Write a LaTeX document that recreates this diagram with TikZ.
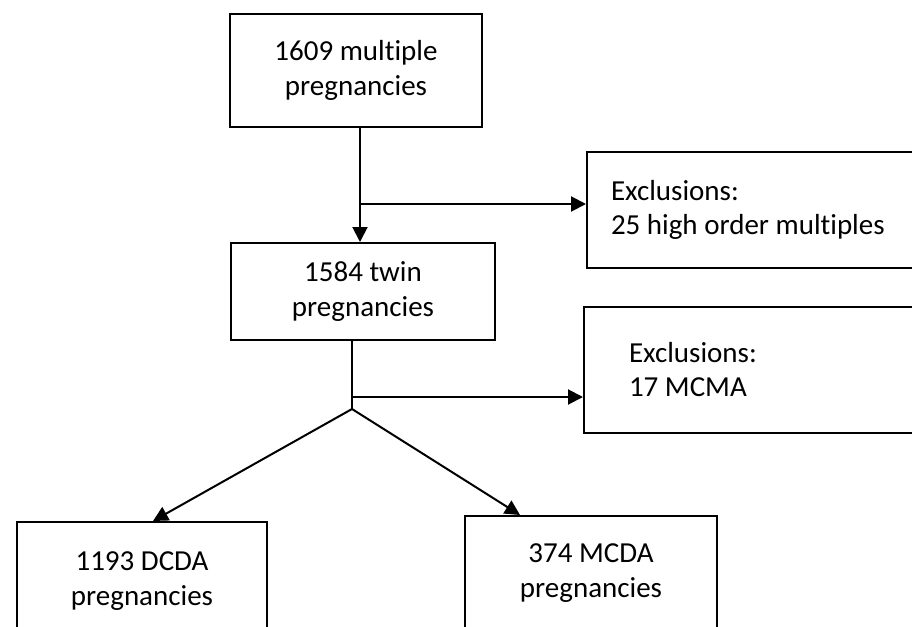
\documentclass[tikz,border=0pt]{standalone}
\usepackage{fontspec}
\setmainfont{Carlito}[Ligatures=NoCommon]
\usetikzlibrary{arrows.meta,positioning}
\tikzset{
  flowbox/.style={draw, line width=2pt, align=center, inner sep=0pt,
    font=\fontsize{29}{35}\selectfont},
  exclbox/.style={draw, line width=2pt, align=flush left, anchor=north west,
    inner ysep=0pt, text width=330pt, font=\fontsize{29}{34}\selectfont},
  flowline/.style={line width=2pt},
  flowarrow/.style={line width=2pt, -{Triangle[length=15pt,width=15pt]}}
}
\begin{document}
\begin{tikzpicture}[x=1pt,y=-1pt]

    % Fix the page size
    \useasboundingbox (0,0) rectangle (912,626);

    % Main boxes
    \node[flowbox, minimum width=252pt, minimum height=113pt] (multiple) at (356,70.5) {1609 multiple\\pregnancies};
    \node[flowbox, minimum width=264pt, minimum height=97pt] (twin) at (363,291.5) {1584 twin\\pregnancies};
    \node[flowbox, minimum width=250pt, minimum height=118pt] (dcda) at (142,581) {1193 DCDA\\pregnancies};
    \node[flowbox, minimum width=252pt, minimum height=114pt] (mcda) at (591,573) {374 MCDA\\pregnancies};

    % Exclusion boxes
    \node[exclbox, minimum height=116pt, inner xsep=24pt] (exclhigh) at (586,151) {Exclusions:\\25 high order multiples};
    \node[exclbox, minimum height=126pt, inner xsep=45pt] (exclmcma) at (583,306) {Exclusions:\\17 MCMA};

    % Junction points
    \coordinate (j1) at (360,204);
    \coordinate (j2) at (352,397);
    \coordinate (split) at (352,409);

    % Connectors
    \draw[flowarrow] (multiple.south -| j1) -- (twin.north -| j1);
    \draw[flowarrow] (j1) -- (j1 -| exclhigh.west);
    \draw[flowline] (twin.south -| split) -- (split);
    \draw[flowarrow] (j2) -- (j2 -| exclmcma.west);
    \draw[flowarrow] (split) -- ([xshift=11pt]dcda.north);
    \draw[flowarrow] (split) -- ([xshift=-71pt]mcda.north);

\end{tikzpicture}
\end{document}
